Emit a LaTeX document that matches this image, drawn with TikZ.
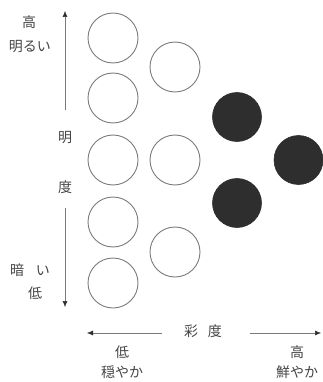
\documentclass[tikz,border=0pt]{standalone}
\usepackage{fontspec}
\newfontfamily\jp{Noto Sans CJK JP}[Scale=1]
\usetikzlibrary{arrows.meta}
\definecolor{txt}{HTML}{444444}
\definecolor{ring}{HTML}{7A7A7A}
\definecolor{dark}{HTML}{2E2E2E}
\begin{document}
\begin{tikzpicture}[x=1pt,y=-1pt,
  opencirc/.style={circle,draw=ring,line width=0.9pt,minimum size=50pt,inner sep=0pt},
  fullcirc/.style={circle,draw=dark,fill=dark,line width=0.6pt,minimum size=49pt,inner sep=0pt},
  lbl/.style={text=txt,font=\jp\fontsize{14}{16}\selectfont,inner sep=0pt,align=center},
  axis/.style={draw=ring,line width=0.5pt,arrows={-{Latex[length=6pt,width=5pt,color=dark]}}}
]
\useasboundingbox (0,0) rectangle (322,382);
% column 1
\node[opencirc] (a1) at (113,38) {};
\node[opencirc] (a2) at (113,98) {};
\node[opencirc] (a3) at (113,160) {};
\node[opencirc] (a4) at (113,222) {};
\node[opencirc] (a5) at (113,283) {};
% column 2
\node[opencirc] (b1) at (175,67) {};
\node[opencirc] (b2) at (175,160) {};
\node[opencirc] (b3) at (175,252) {};
% filled
\node[fullcirc] (c1) at (237,117) {};
\node[fullcirc] (c2) at (237,203) {};
\node[fullcirc] (d1) at (298.5,160) {};
% vertical axis
\coordinate (vt1) at (65,110);
\coordinate (vt2) at (65,11);
\coordinate (vb1) at (65,208);
\coordinate (vb2) at (65,307);
\draw[axis] (vt1) -- (vt2);
\draw[axis] (vb1) -- (vb2);
\node[lbl] (hi) at (29,22) {高};
\node[lbl] (bright) at (30,47) {明るい};
\node[lbl] (mei) at (65,138) {明};
\node[lbl] (do) at (65,187) {度};
\node[lbl] (dark) at (30,270) {暗\hspace{12pt}い};
\node[lbl] (lo) at (35,293) {低};
% horizontal axis
\coordinate (hl1) at (162,333);
\coordinate (hl2) at (87,333);
\coordinate (hr1) at (250,333);
\coordinate (hr2) at (321,333);
\draw[axis] (hl1) -- (hl2);
\draw[axis] (hr1) -- (hr2);
\node[lbl] (sat) at (203,331) {彩\hspace{10pt}度};
\node[lbl] (slo) at (122,352) {低};
\node[lbl] (calm) at (122,372) {穏やか};
\node[lbl] (shi) at (297,352) {高};
\node[lbl] (vivid) at (297,372) {鮮やか};
\end{tikzpicture}
\end{document}
